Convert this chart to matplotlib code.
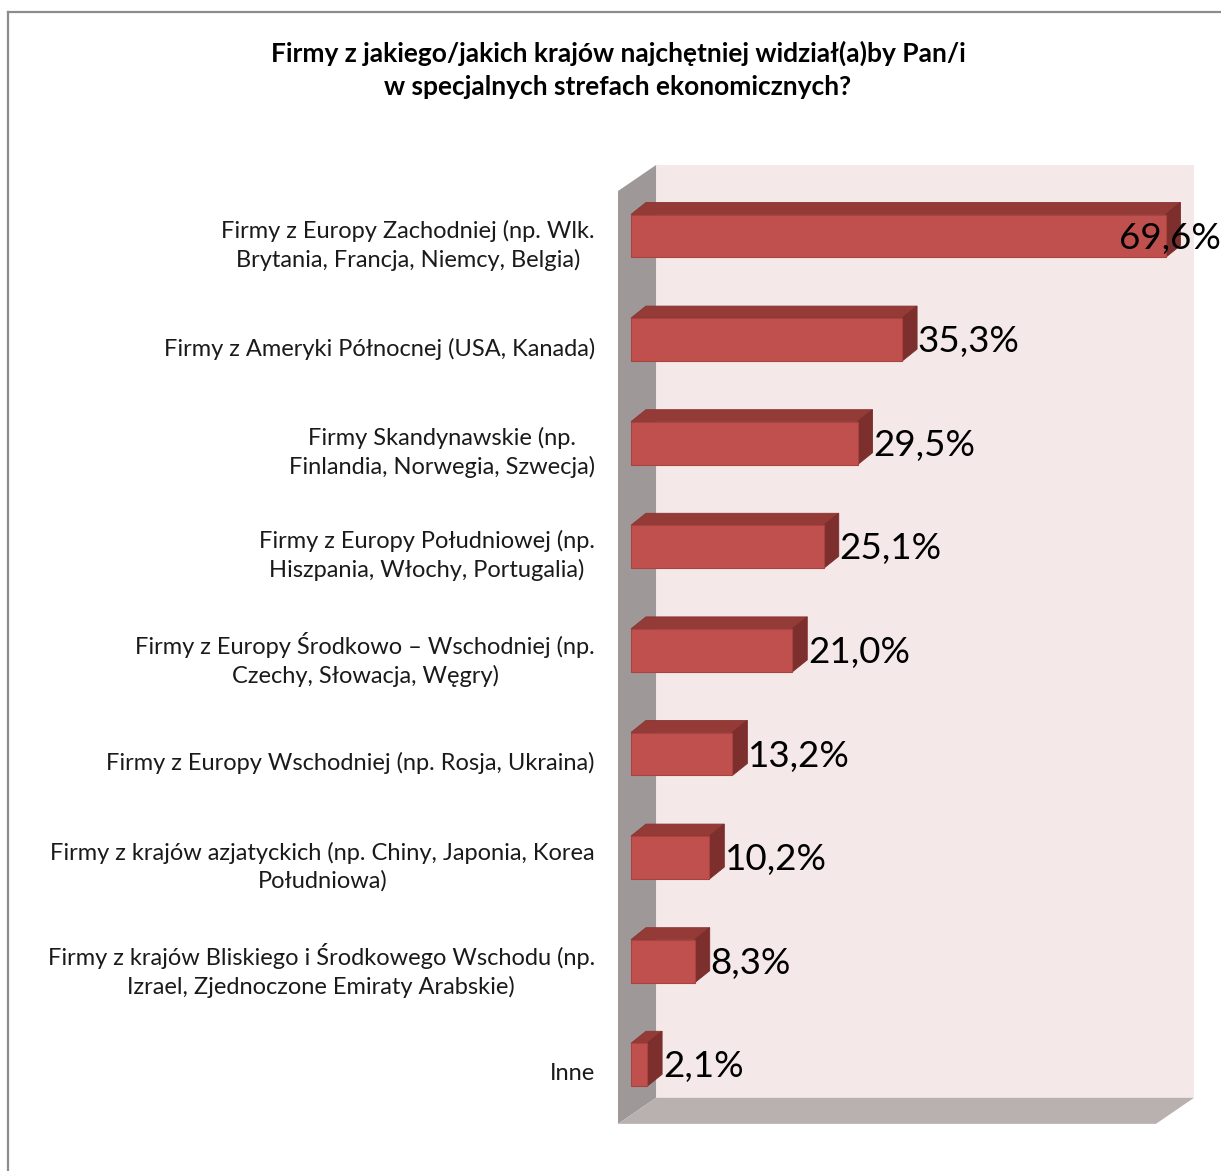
import numpy as np
import matplotlib.pyplot as plt
from matplotlib.patches import Polygon

plt.rcParams['font.family'] = ['Lato', 'DejaVu Sans']

# Dane
kategorie = [
    'Firmy z Europy Zachodniej (np. Wlk.\nBrytania, Francja, Niemcy, Belgia)',
    'Firmy z Ameryki Północnej (USA, Kanada)',
    'Firmy Skandynawskie (np.\nFinlandia, Norwegia, Szwecja)',
    'Firmy z Europy Południowej (np.\nHiszpania, Włochy, Portugalia)',
    'Firmy z Europy Środkowo – Wschodniej (np.\nCzechy, Słowacja, Węgry)',
    'Firmy z Europy Wschodniej (np. Rosja, Ukraina)',
    'Firmy z krajów azjatyckich (np. Chiny, Japonia, Korea\nPołudniowa)',
    'Firmy z krajów Bliskiego i Środkowego Wschodu (np.\nIzrael, Zjednoczone Emiraty Arabskie)',
    'Inne',
]
wartosci = [69.6, 35.3, 29.5, 25.1, 21.0, 13.2, 10.2, 8.3, 2.1]
etykiety = ['69,6%', '35,3%', '29,5%', '25,1%', '21,0%', '13,2%', '10,2%', '8,3%', '2,1%']

tytul = ('Firmy z jakiego/jakich krajów najchętniej widział(a)by Pan/i\n'
         'w specjalnych strefach ekonomicznych?')

# Kolory
c_front = '#c0504d'
c_top = '#943b38'
c_side = '#7d2f2d'
c_wall = '#f4e8e8'
c_floor = '#b9b0b0'
c_lwall = '#9e9898'

W, H = 1221, 1171
fig = plt.figure(figsize=(W / 100, H / 100), dpi=100)
ax = fig.add_axes([0, 0, 1, 1])

# skala: 7.68 px na 1%, 103.6 px na kategorie
px_x, px_y = 7.68, 103.6
x0_px, y0_px = 631, 236
ax.set_xlim(-x0_px / px_x, (W - x0_px) / px_x)
ax.set_ylim((H - y0_px) / px_y, -y0_px / px_y)
ax.axis('off')

# ramka
fig.add_artist(plt.Line2D([8 / W, 8 / W], [0, 1 - 12 / H], color='#8c8c8c', lw=1.6))
fig.add_artist(plt.Line2D([8 / W, 1], [1 - 12 / H, 1 - 12 / H], color='#8c8c8c', lw=1.6))

# sciany 3D
wx0 = -1.69
wdx, wdy = 4.95, -0.251
w_top, w_bot = -0.685, 8.57
xr = 73.3
ax.add_patch(Polygon([(wx0 + wdx, w_top), (xr, w_top), (xr, w_bot + wdy), (wx0 + wdx, w_bot + wdy)],
                     closed=True, fc=c_wall, ec='none'))
ax.add_patch(Polygon([(wx0, w_top - wdy), (wx0 + wdx, w_top), (wx0 + wdx, w_bot + wdy), (wx0, w_bot)],
                     closed=True, fc=c_lwall, ec='none'))
ax.add_patch(Polygon([(wx0, w_bot), (wx0 + wdx, w_bot + wdy), (xr, w_bot + wdy), (xr - wdx, w_bot)],
                     closed=True, fc=c_floor, ec='none'))

# slupki
h = 0.415
dx, dy = 1.95, -0.116
for i, v in enumerate(wartosci):
    yt, yb = i - h / 2, i + h / 2
    ax.add_patch(Polygon([(0, yt), (dx, yt + dy), (v + dx, yt + dy), (v, yt)],
                         closed=True, fc=c_top, ec='#8a3331', lw=0.6))
    ax.add_patch(Polygon([(v, yt), (v + dx, yt + dy), (v + dx, yb + dy), (v, yb)],
                         closed=True, fc=c_side, ec='#7a2d2b', lw=0.6))
    ax.add_patch(Polygon([(0, yt), (v, yt), (v, yb), (0, yb)],
                         closed=True, fc=c_front, ec='#a8433f', lw=0.8))
    ax.text(min(v + dx + 0.1, 63.5), i + 0.02, etykiety[i], fontsize=26.5,
            va='center', ha='left', color='black')

# etykiety kategorii
for i, k in enumerate(kategorie):
    ax.text(-4.69, i + 0.087, k, ha='right', va='center', multialignment='center',
            fontsize=17, linespacing=1.38, color='#1a1a1a')

fig.text(618 / W, 1 - 70 / H, tytul, ha='center', va='center', fontsize=19,
         fontweight='bold', linespacing=1.42)

fig.savefig('out.png', dpi=100)
